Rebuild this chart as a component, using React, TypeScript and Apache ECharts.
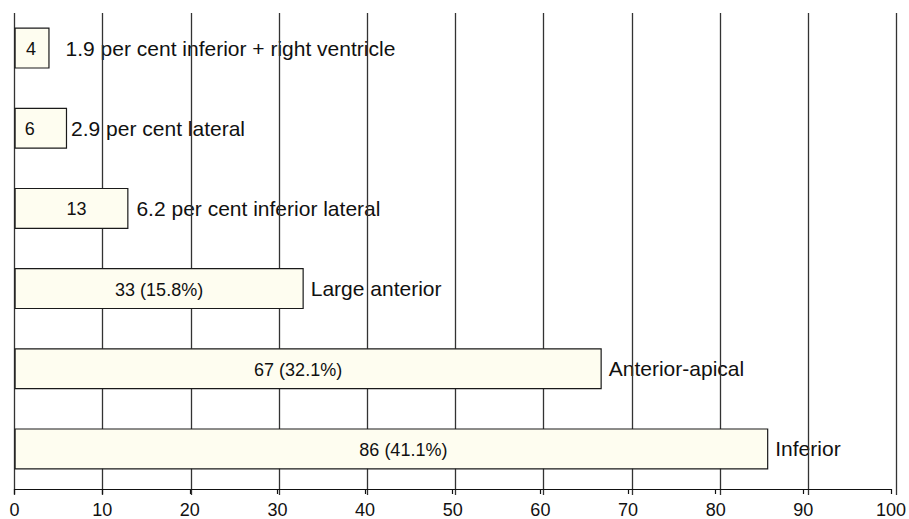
import React, { useEffect, useRef } from "react";
import * as echarts from "echarts";

// Categories from bottom to top
const categories = [
  "Inferior",
  "Anterior-apical",
  "Large anterior",
  "6.2 per cent inferior lateral",
  "2.9 per cent lateral",
  "1.9 per cent inferior + right ventricle",
];
const counts = [86, 67, 33, 13, 6, 4];
const insideLabels = ["86 (41.1%)", "67 (32.1%)", "33 (15.8%)", "13", "6", "4"];
const outsideLabels = categories;
const xTicks = [0, 10, 20, 30, 40, 50, 60, 70, 80, 90, 100];

const FONT = "'Liberation Sans', Arial, Helvetica, sans-serif";

export default function App() {
  const ref = useRef<HTMLDivElement>(null);
  useEffect(() => {
    if (!ref.current) return;
    const chart = echarts.init(ref.current, undefined, { renderer: "svg" });
    const xMin = xTicks[0];
    const xMax = xTicks[xTicks.length - 1];
    const step = xTicks[1] - xTicks[0];
    // label styling tweaks (pixels)
    const outsideGap = [7, 7, 7, 8, 4, 16];
    const insideShift = [12, -10, 0, 5, -11, -1];
    chart.setOption({
      animation: false,
      backgroundColor: "#ffffff",
      grid: [
        { left: 14.5, right: 12.5, top: 8, bottom: 24, containLabel: false },
        { left: 14.5, right: 12.5, top: 13, bottom: 24, containLabel: false },
      ],
      xAxis: [
        {
          type: "value",
          gridIndex: 0,
          min: xMin,
          max: xMax,
          interval: step,
          z: 4,
          axisLine: { show: true, lineStyle: { color: "#111", width: 1.2 } },
          axisTick: { show: true, length: 5, lineStyle: { color: "#111", width: 1.2 } },
          axisLabel: { color: "#111", fontSize: 18, fontFamily: FONT, margin: 12 },
          splitLine: { show: false },
        },
        {
          type: "value",
          gridIndex: 1,
          min: xMin,
          max: xMax,
          interval: step,
          z: 2,
          axisLine: { show: false },
          axisTick: { show: false },
          axisLabel: { show: false },
          splitLine: { show: true, lineStyle: { color: "#333", width: 1.3 } },
        },
      ],
      yAxis: [
        { type: "category", gridIndex: 0, data: categories, show: false },
        { type: "category", gridIndex: 1, data: categories, show: false },
      ],
      series: [
        {
          type: "bar",
          xAxisIndex: 0,
          yAxisIndex: 0,
          z: 1,
          data: counts.map((v, i) => ({ value: v, label: { distance: outsideGap[i] } })),
          barWidth: 41,
          barGap: "-100%",
          itemStyle: { color: "rgba(0,0,0,0)" },
          label: {
            show: true,
            position: "right",
            color: "#111",
            fontSize: 21,
            fontFamily: FONT,
            formatter: (p: any) => outsideLabels[p.dataIndex],
          },
        },
        {
          type: "bar",
          xAxisIndex: 0,
          yAxisIndex: 0,
          z: 3,
          data: counts.map((v, i) => ({ value: v, label: { offset: [insideShift[i], 1] } })),
          barWidth: 41,
          barGap: "-100%",
          itemStyle: { color: "#fefdf0", borderColor: "#1a1a1a", borderWidth: 1.2 },
          label: {
            show: true,
            position: "inside",
            color: "#111",
            fontSize: 18,
            fontFamily: FONT,
            formatter: (p: any) => insideLabels[p.dataIndex],
          },
        },
      ],
    });
    return () => chart.dispose();
  }, []);
  return <div ref={ref} style={{ width: 909, height: 519, position: "absolute", left: 0, top: 0 }} />;
}
